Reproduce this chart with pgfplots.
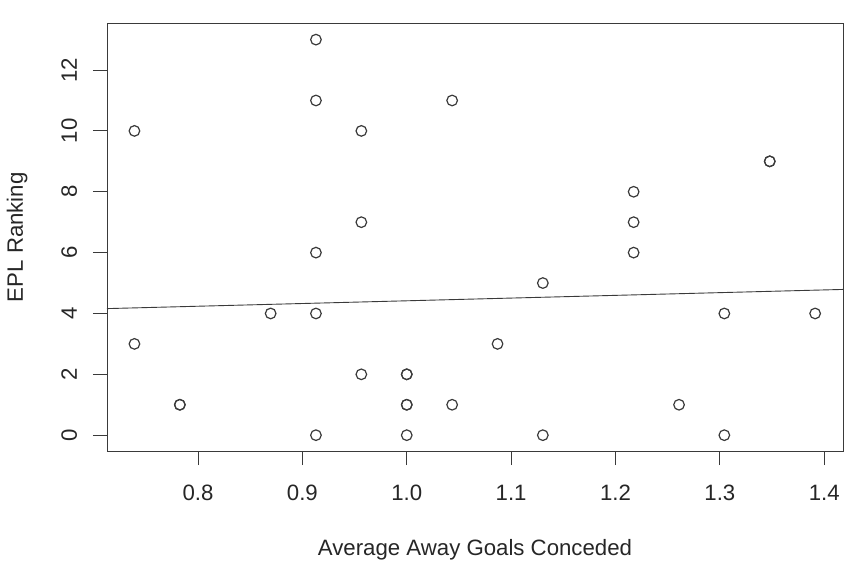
\documentclass[border=0pt]{standalone}
\usepackage{fontspec}
\setmainfont{Liberation Sans}
\usepackage{pgfplots}
\pgfplotsset{compat=1.18}
\definecolor{ink}{HTML}{3A3A3A}
\begin{document}
\fontsize{22.3}{26}\selectfont
\begin{tikzpicture}
\useasboundingbox (-107bp,-114bp) rectangle (755bp,451bp);
\begin{axis}[
  at={(0,0)}, anchor=south west,
  width=736bp, height=427.5bp, scale only axis,
  xmin=0.7128, xmax=1.418, ymin=-0.52, ymax=13.53,
  xtick={0.8,0.9,1.0,1.1,1.2,1.3,1.4},
  ytick={0,2,4,6,8,10,12},
  xticklabel={\pgfmathprintnumber[fixed,fixed zerofill,precision=1]{\tick}},
  tick align=outside, major tick length=14bp,
  xtick pos=bottom, ytick pos=left,
  tick style={ink, line width=0.9bp},
  axis line style={ink, line width=0.9bp},
  /pgf/number format/assume math mode=true,
  x tick label style={anchor=base, yshift=-35bp, text=black!85},
  y tick label style={xshift=-16bp, rotate=90, anchor=base, text=black!85},
  xlabel={Average Away Goals Conceded},
  ylabel={EPL Ranking},
  every axis x label/.style={at={(axis description cs:0.5,0)}, anchor=base, yshift=-104bp, text=black!85},
  every axis y label/.style={at={(axis description cs:0,0.5)}, xshift=-84bp, rotate=90, anchor=base, text=black!85},
]
% points: average away goals conceded vs EPL ranking
\addplot[only marks, mark=o, mark size=5.3bp, ink, mark options={line width=1.2bp}] coordinates {
  (0.7391,10) (0.7391,3)
  (0.7826,1) (0.7826,1)
  (0.8696,4)
  (0.9130,13) (0.9130,11) (0.9130,6) (0.9130,4) (0.9130,0)
  (0.9565,10) (0.9565,7) (0.9565,2)
  (1.0000,2) (1.0000,2) (1.0000,1) (1.0000,1) (1.0000,0)
  (1.0435,11) (1.0435,1)
  (1.0870,3)
  (1.1304,5) (1.1304,0)
  (1.2174,8) (1.2174,7) (1.2174,6)
  (1.2609,1)
  (1.3043,4) (1.3043,0)
  (1.3478,9) (1.3478,9)
  (1.3913,4)
};
% fitted line
\addplot[ink, line width=0.9bp] coordinates {(0.7128,4.16) (1.418,4.79)};
\end{axis}
\end{tikzpicture}
\end{document}
